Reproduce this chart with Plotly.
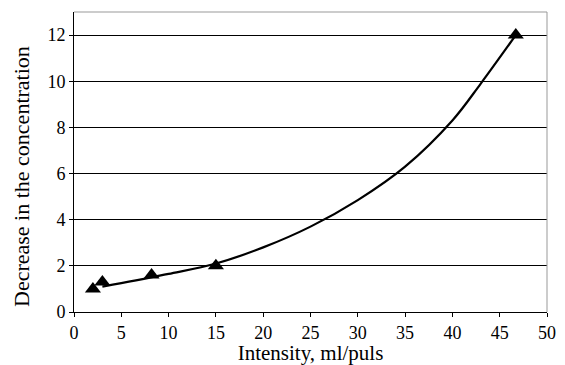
import plotly.graph_objects as go

# Measured points
point_x = [2.0, 3.0, 8.2, 15.0, 46.7]
point_y = [1.0, 1.3, 1.6, 2.0, 12.0]

# Trend curve
curve_x = [3, 5, 10, 15, 20, 25, 30, 35, 40, 43, 46.7]
curve_y = [1.1, 1.25, 1.65, 2.1, 2.8, 3.7, 4.85, 6.3, 8.3, 9.9, 12.0]

x_ticks = [0, 5, 10, 15, 20, 25, 30, 35, 40, 45, 50]
y_ticks = [0, 2, 4, 6, 8, 10, 12]

font = "Liberation Serif, Times New Roman, serif"

fig = go.Figure()
fig.add_trace(go.Scatter(x=curve_x, y=curve_y, mode="lines",
                         line=dict(color="black", width=2.2, shape="spline"),
                         hoverinfo="skip", showlegend=False))
fig.add_trace(go.Scatter(x=point_x, y=point_y, mode="markers",
                         marker=dict(symbol="triangle-up", size=14, color="black"),
                         showlegend=False))

# page body has an 8px margin, so the figure is sized/offset to compensate
fig.update_layout(
    width=557, height=357,
    margin=dict(l=66, r=18, t=4, b=53),
    paper_bgcolor="white", plot_bgcolor="white",
    font=dict(family=font, size=18, color="black"),
    xaxis=dict(range=[0, 50], tickvals=x_ticks, ticks="outside", ticklen=4,
               tickcolor="black", showline=True, linecolor="black", linewidth=1,
               showgrid=False, zeroline=False,
               title=dict(text="Intensity, ml/puls",
                          font=dict(family=font, size=21), standoff=0),
               tickfont=dict(family=font, size=18)),
    yaxis=dict(range=[0, 13], tickvals=y_ticks, ticks="outside", ticklen=4,
               tickcolor="black", showline=True, linecolor="black", linewidth=1,
               showgrid=True, gridcolor="black", gridwidth=1, zeroline=False,
               tickfont=dict(family=font, size=18)),
    annotations=[
        dict(text="Decrease in the concentration", xref="paper", yref="paper",
             x=0, y=0.45, xshift=-53, xanchor="center", yanchor="middle",
             textangle=-90, showarrow=False,
             font=dict(family=font, size=22, color="black")),
    ],
    shapes=[
        dict(type="line", xref="paper", yref="paper", x0=0, x1=1, y0=1, y1=1,
             line=dict(color="#999999", width=1)),
        dict(type="line", xref="paper", yref="paper", x0=1, x1=1, y0=0, y1=1,
             line=dict(color="#999999", width=1)),
    ],
)

fig.write_html("out.html")
